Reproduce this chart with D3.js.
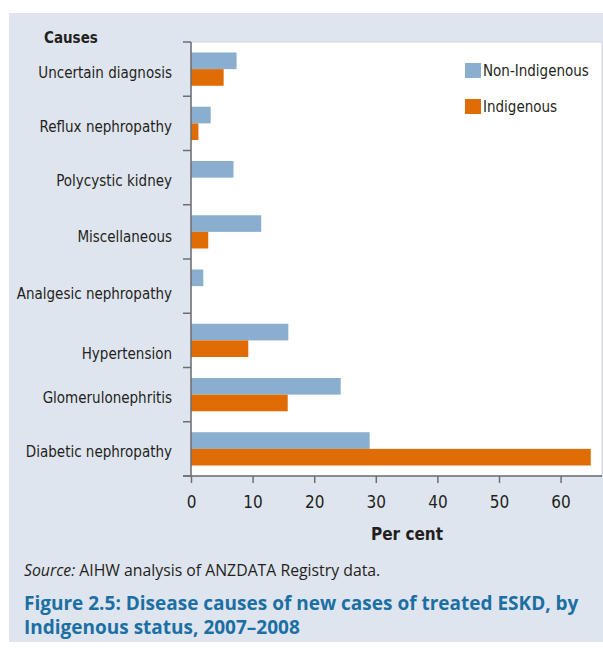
<!DOCTYPE html>
<html>
<head>
<meta charset="utf-8">
<script src="https://cdn.jsdelivr.net/npm/d3@7"></script>
<style>
  body { margin: 0; background: #fff; }
  svg text { font-family: "DejaVu Sans Condensed", "DejaVu Sans", sans-serif; font-stretch: condensed; fill: #231f20; }
</style>
</head>
<body>
<svg id="chart" width="603" height="648"></svg>
<script>
// data (per cent)
var causes = ["Uncertain diagnosis", "Reflux nephropathy", "Polycystic kidney", "Miscellaneous",
              "Analgesic nephropathy", "Hypertension", "Glomerulonephritis", "Diabetic nephropathy"];
var series = ["Non-Indigenous", "Indigenous"];
var nonIndigenous = [7.4, 3.2, 6.9, 11.4, 2.0, 15.8, 24.3, 29.0];
var indigenous = [5.3, 1.2, 0, 2.8, 0, 9.3, 15.7, 64.9];
var xTicks = [0, 10, 20, 30, 40, 50, 60];
var colors = ["#8aaecd", "#e06c05"];

// labels in the original sit a bit unevenly against their bands
var labelNudge = [0, 0.5, -0.5, 2, 4, 10.5, -0.5, 0];

var svg = d3.select("#chart");
var plotLeft = 191, plotRight = 602, plotTop = 42, plotBottom = 476;

// background panel
svg.append("rect")
  .attr("x", 9).attr("y", 13)
  .attr("width", 594).attr("height", 629)
  .attr("fill", "#dfe5ef");

// white plot area
svg.append("rect")
  .attr("x", plotLeft).attr("y", plotTop)
  .attr("width", plotRight - plotLeft).attr("height", plotBottom - plotTop)
  .attr("fill", "#fff")
  .attr("stroke", "#c9ced6").attr("stroke-width", 0.8);

var x = d3.scaleLinear().domain([0, 65]).range([plotLeft, plotLeft + 65 * 6.16]);
var y = d3.scaleBand().domain(causes).range([plotTop, plotBottom]).padding(0);
var ySub = d3.scaleBand().domain(series).range([0, y.bandwidth()]).paddingOuter(0.63).paddingInner(0);

var rows = causes.map(function(c, i) {
  return { cause: c, values: [nonIndigenous[i], indigenous[i]] };
});

// bars
var g = svg.selectAll(".row").data(rows).enter().append("g")
  .attr("class", "row")
  .attr("transform", function(d) { return "translate(0," + y(d.cause) + ")"; });

g.selectAll("rect").data(function(d) {
    return d.values.map(function(v, j) { return { s: series[j], v: v, j: j }; });
  }).enter().append("rect")
  .attr("x", x(0))
  .attr("y", function(d) { return ySub(d.s); })
  .attr("width", function(d) { return x(d.v) - x(0); })
  .attr("height", ySub.bandwidth())
  .attr("fill", function(d) { return colors[d.j]; });

// category labels
svg.selectAll(".cat").data(causes).enter().append("text")
  .attr("class", "cat")
  .attr("x", 172)
  .attr("y", function(d, i) { return y(d) + y.bandwidth() / 2 + 8.5 + labelNudge[i]; })
  .attr("text-anchor", "end")
  .attr("font-size", 15)
  .text(function(d) { return d; });

// y axis line and ticks at band edges
var axisColor = "#6d6e71";
svg.append("line")
  .attr("x1", plotLeft).attr("x2", plotLeft)
  .attr("y1", plotTop).attr("y2", plotBottom)
  .attr("stroke", axisColor).attr("stroke-width", 1.5);

var edges = causes.map(function(c) { return y(c); }).concat([plotBottom]);
svg.selectAll(".ytick").data(edges).enter().append("line")
  .attr("x1", 183).attr("x2", plotLeft)
  .attr("y1", function(d) { return d; }).attr("y2", function(d) { return d; })
  .attr("stroke", axisColor).attr("stroke-width", 1.5);

// x axis
svg.append("line")
  .attr("x1", 183).attr("x2", plotRight)
  .attr("y1", plotBottom).attr("y2", plotBottom)
  .attr("stroke", axisColor).attr("stroke-width", 1.5);

var xAxis = svg.append("g")
  .attr("transform", "translate(0," + plotBottom + ")")
  .call(d3.axisBottom(x).tickValues(xTicks).tickSize(7).tickPadding(13).tickFormat(d3.format("d")));
xAxis.select(".domain").remove();
xAxis.attr("font-family", null);
xAxis.selectAll(".tick line").attr("stroke", axisColor).attr("stroke-width", 1.5);
xAxis.selectAll(".tick text")
  .attr("font-size", 17)
  .attr("fill", "#231f20");

// axis titles
svg.append("text")
  .attr("x", 44).attr("y", 43)
  .attr("font-size", 15).attr("font-weight", "bold")
  .text("Causes");

svg.append("text")
  .attr("x", 407).attr("y", 540)
  .attr("text-anchor", "middle")
  .attr("font-size", 17).attr("font-weight", "bold")
  .text("Per cent");

// legend
var legend = svg.selectAll(".legend").data(series).enter().append("g")
  .attr("class", "legend")
  .attr("transform", function(d, i) { return "translate(465," + (63 + i * 36) + ")"; });
legend.append("rect")
  .attr("width", 16).attr("height", 15)
  .attr("fill", function(d, i) { return colors[i]; });
legend.append("text")
  .attr("x", 18).attr("y", 13)
  .attr("font-size", 15)
  .text(function(d) { return d; });

// source + figure title
var src = svg.append("text")
  .attr("x", 24).attr("y", 576)
  .attr("font-size", 15.8)
  .style("font-family", "'Open Sans', sans-serif")
  .style("font-stretch", "normal");
src.append("tspan").attr("font-style", "italic").text("Source:");
src.append("tspan").text(" AIHW analysis of ANZDATA Registry data.");

var titleLines = ["Figure 2.5: Disease causes of new cases of treated ESKD, by",
                  "Indigenous status, 2007\u20132008"];
svg.selectAll(".ftitle").data(titleLines).enter().append("text")
  .attr("class", "ftitle")
  .attr("x", 24)
  .attr("y", function(d, i) { return 610 + i * 24; })
  .attr("font-size", 19).attr("font-weight", "bold")
  .style("font-family", "'Open Sans', sans-serif")
  .style("font-stretch", "normal")
  .style("fill", "#1b6fa3")
  .text(function(d) { return d; });
</script>
</body>
</html>
